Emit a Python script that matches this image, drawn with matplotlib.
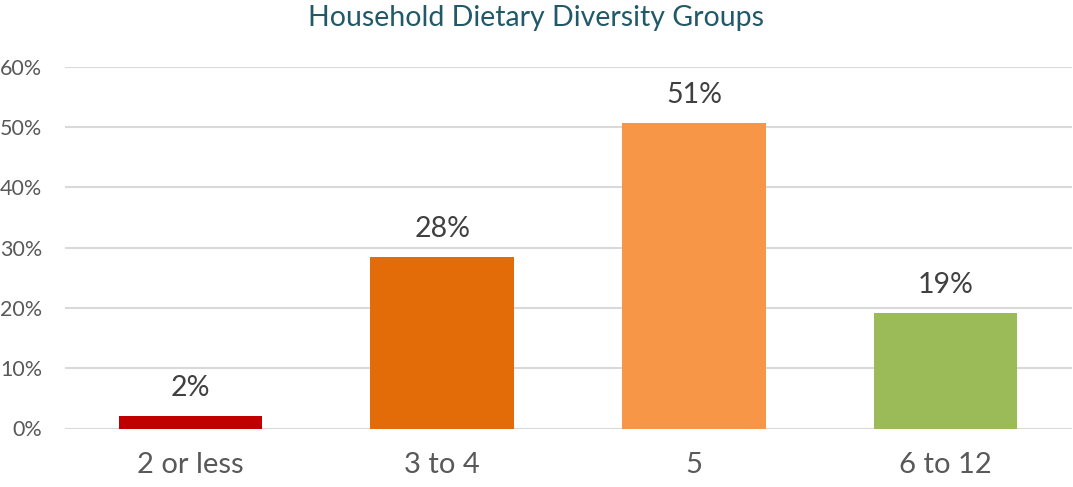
import matplotlib
matplotlib.use('Agg')
import matplotlib.pyplot as plt
from matplotlib.ticker import FuncFormatter

categories = ['2 or less', '3 to 4', '5', '6 to 12']
shares = [2.0, 28.4, 50.6, 19.1]
share_labels = ['2%', '28%', '51%', '19%']
bar_colors = ['#C00000', '#E36C09', '#F79646', '#9BBB59']
y_ticks = [0, 10, 20, 30, 40, 50, 60]

plt.rcParams['font.family'] = ['Lato', 'DejaVu Sans']

fig = plt.figure(figsize=(10.73, 4.87), dpi=100)
ax = fig.add_axes([64.5 / 1073, 58.5 / 487, 1007 / 1073, 361.8 / 487])

x = range(len(categories))
bars = ax.bar(x, shares, width=0.571, color=bar_colors, zorder=3)

for bar, label in zip(bars, share_labels):
    ax.annotate(label, (bar.get_x() + bar.get_width() / 2, bar.get_height()),
                xytext=(0, 11), textcoords='offset points',
                ha='center', va='bottom', fontsize=20.5, color='#404040')

ax.set_xlim(-0.5, len(categories) - 0.5)
ax.set_ylim(0, 60)
ax.set_yticks(y_ticks)
ax.yaxis.set_major_formatter(FuncFormatter(lambda v, _: f'{v:.0f}%'))
ax.set_xticks(list(x))
ax.set_xticklabels(categories)

ax.grid(axis='y', color='#D9D9D9', linewidth=1.5, zorder=0)
for side in ['top', 'right', 'left', 'bottom']:
    ax.spines[side].set_visible(False)
ax.tick_params(axis='both', length=0)
ax.tick_params(axis='y', labelsize=15.5, labelcolor='#595959', pad=16)
ax.tick_params(axis='x', labelsize=21, labelcolor='#595959', pad=17)

fig.text(0.5, 0.99, 'Household Dietary Diversity Groups', ha='center', va='top',
         fontsize=20.5, color='#215968')

fig.savefig('out.png', dpi=100)
